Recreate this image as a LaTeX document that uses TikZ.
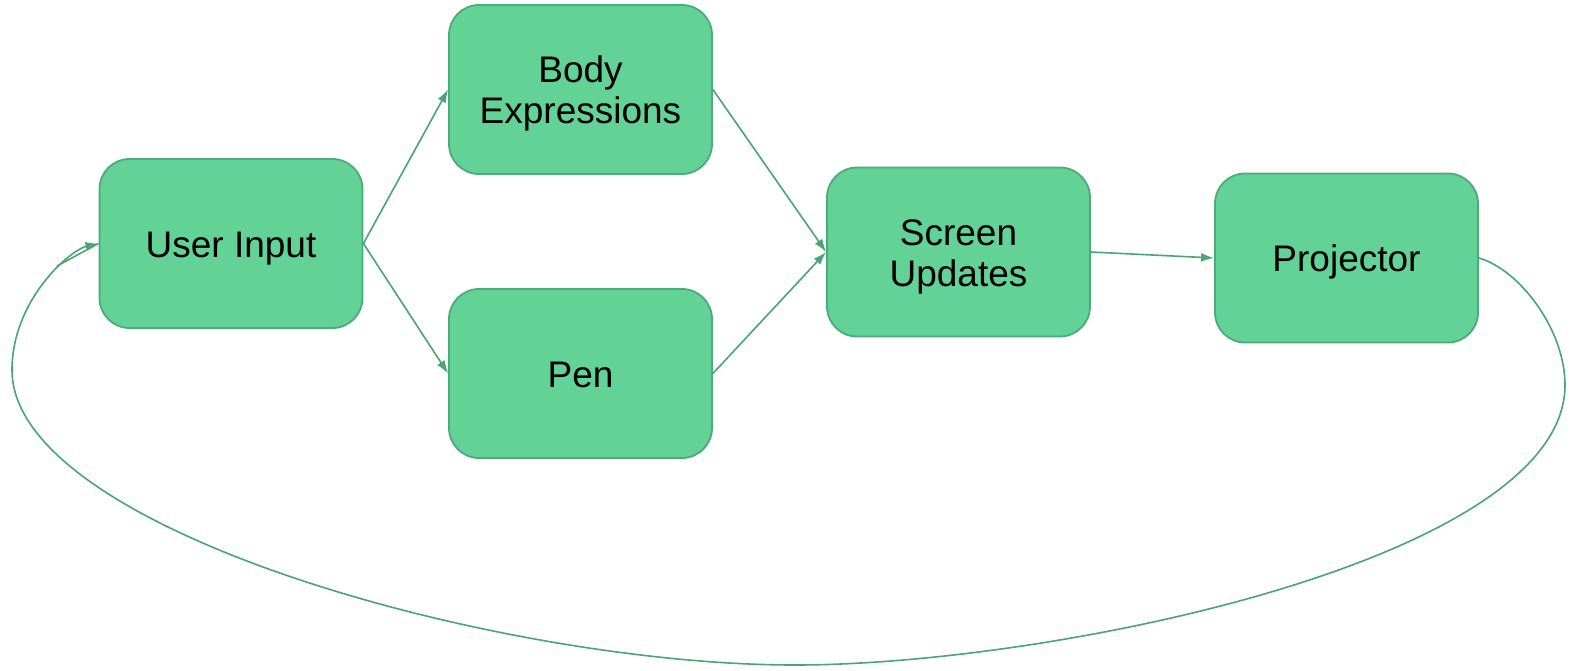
\documentclass[tikz,border=0pt]{standalone}
\usepackage{fontspec}
\setmainfont{Liberation Sans}
\usetikzlibrary{arrows.meta}
\definecolor{boxfill}{HTML}{62D297}
\definecolor{boxline}{HTML}{4DAA7A}
\definecolor{arrowc}{HTML}{4BA474}
\tikzset{
  box/.style={draw=boxline, line width=1.8pt, fill=boxfill, rounded corners=30pt,
    minimum width=263pt, minimum height=169pt, align=center, inner sep=0pt,
    font=\fontsize{37}{43}\selectfont},
  conn/.style={draw=arrowc, line width=1.6pt, -{Latex[length=13pt,width=9pt]}},
}
\newcommand{\lowtxt}[1]{\raisebox{-5pt}[\height][\depth]{\begin{tabular}{@{}c@{}}#1\end{tabular}}}
\begin{document}
\begin{tikzpicture}[x=1pt,y=-1pt]
\useasboundingbox (0,0) rectangle (1574,670);
\node[box] (ui) at (231,243.5) {\lowtxt{User Input}};
\node[box] (body) at (580.5,89.5) {\lowtxt{Body\\[-2pt]Expressions}};
\node[box] (pen) at (580.5,373.5) {\lowtxt{Pen}};
\node[box] (scr) at (958.5,252) {\lowtxt{Screen\\[-2pt]Updates}};
\node[box] (proj) at (1346.5,258) {\lowtxt{Projector}};
\draw[conn] (ui.east) -- (body.west);
\draw[conn] (ui.east) -- (pen.west);
\draw[conn] (body.east) -- (scr.west);
\draw[conn] (pen.east) -- (scr.west);
\draw[conn] (scr.east) -- (proj.west);
\draw[conn] (proj.east) .. controls (1520,270) and (1565,330) .. (1565,385)
  .. controls (1565,560) and (1050,665) .. (795,665)
  .. controls (500,665) and (12,530) .. (12,370)
  .. controls (12,300) and (70,250) .. (ui.west);
\coordinate (stub) at (57,266);
\draw[draw=arrowc, line width=1.6pt] (stub) -- (ui.west);
\end{tikzpicture}
\end{document}
